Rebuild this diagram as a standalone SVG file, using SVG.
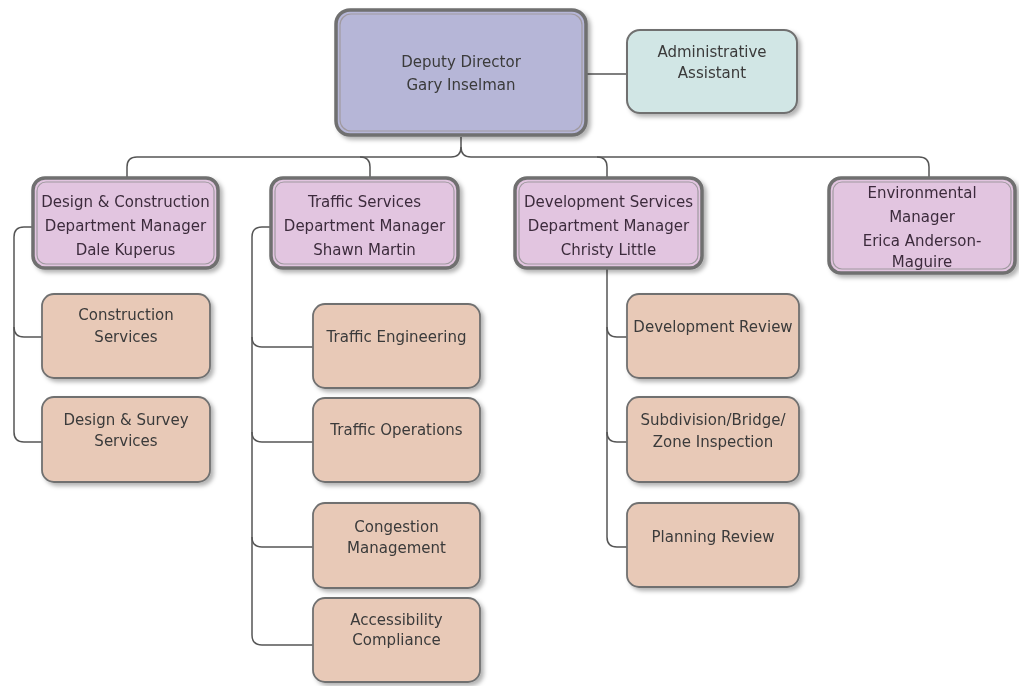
<svg xmlns="http://www.w3.org/2000/svg" width="1019" height="686" viewBox="0 0 1019 686">
<defs>
<filter id="sh" x="-10%" y="-10%" width="125%" height="130%">
<feDropShadow dx="3" dy="3" stdDeviation="2" flood-color="#000" flood-opacity="0.3"/>
</filter>
</defs>
<style>
text{font-family:"DejaVu Sans","Open Sans",sans-serif;font-size:15px;text-anchor:middle;fill:#3a3a3a}
.outer{stroke:#6f6f6f;stroke-width:3.5}
.inner{fill:none;stroke:#a09aa0;stroke-width:1.2}
.dir{fill:#b6b6d7}
.adm{fill:#d1e6e5;stroke:#707070;stroke-width:2}
.mgr{fill:#e2c5e0}
.mgr-t{fill:#3c2c3c}
.unit{fill:#e8c9b7;stroke:#707070;stroke-width:1.8}
.con{fill:none;stroke:#555;stroke-width:1.5}
</style>
<rect width="1019" height="686" fill="#fff"/>
<g id="connectors">
<path class="con" d="M587,74 H627"/>
<path class="con" d="M461,137 V147 Q461,157 451,157 H137 Q127,157 127,167 V177"/>
<path class="con" d="M461,147 Q461,157 471,157 H919 Q929,157 929,167 V178"/>
<path class="con" d="M360,157 Q370,157 370,167 V177"/>
<path class="con" d="M597,157 Q607,157 607,167 V177"/>
<path class="con" d="M33,227 H24 Q14,227 14,237 V432 Q14,442 24,442 H42"/>
<path class="con" d="M14,327 Q14,337 24,337 H42"/>
<path class="con" d="M270,227 H262 Q252,227 252,237 V635 Q252,645 262,645 H313"/>
<path class="con" d="M252,337 Q252,347 262,347 H313"/>
<path class="con" d="M252,432 Q252,442 262,442 H313"/>
<path class="con" d="M252,537 Q252,547 262,547 H313"/>
<path class="con" d="M607,268 V537 Q607,547 617,547 H627"/>
<path class="con" d="M607,327 Q607,337 617,337 H627"/>
<path class="con" d="M607,432 Q607,442 617,442 H627"/>
</g>
<g id="deputy-director" filter="url(#sh)">
<rect class="dir outer" x="336" y="10" width="250" height="125" rx="14"/>
<rect class="inner" x="340" y="14" width="242" height="117" rx="11"/>
<text x="461" y="67">Deputy Director</text>
<text x="461" y="90">Gary Inselman</text>
</g>
<g id="admin-assistant" filter="url(#sh)">
<rect class="adm" x="627" y="30" width="170" height="83" rx="13"/>
<text x="712" y="57">Administrative</text>
<text x="712" y="78">Assistant</text>
</g>
<g id="design-construction" filter="url(#sh)">
<rect class="mgr outer" x="33" y="178" width="185" height="90" rx="12"/>
<rect class="inner" x="37" y="182" width="177" height="82" rx="9"/>
<text class="mgr-t" x="125.5" y="207">Design &amp; Construction</text>
<text class="mgr-t" x="125.5" y="231">Department Manager</text>
<text class="mgr-t" x="125.5" y="255">Dale Kuperus</text>
</g>
<g id="traffic-services" filter="url(#sh)">
<rect class="mgr outer" x="271" y="178" width="187" height="90" rx="12"/>
<rect class="inner" x="275" y="182" width="179" height="82" rx="9"/>
<text class="mgr-t" x="364.5" y="207">Traffic Services</text>
<text class="mgr-t" x="364.5" y="231">Department Manager</text>
<text class="mgr-t" x="364.5" y="255">Shawn Martin</text>
</g>
<g id="development-services" filter="url(#sh)">
<rect class="mgr outer" x="515" y="178" width="187" height="90" rx="12"/>
<rect class="inner" x="519" y="182" width="179" height="82" rx="9"/>
<text class="mgr-t" x="608.5" y="207">Development Services</text>
<text class="mgr-t" x="608.5" y="231">Department Manager</text>
<text class="mgr-t" x="608.5" y="255">Christy Little</text>
</g>
<g id="environmental" filter="url(#sh)">
<rect class="mgr outer" x="829" y="178" width="186" height="95" rx="12"/>
<rect class="inner" x="833" y="182" width="178" height="87" rx="9"/>
<text class="mgr-t" x="922" y="198">Environmental</text>
<text class="mgr-t" x="922" y="222">Manager</text>
<text class="mgr-t" x="922" y="246">Erica Anderson-</text>
<text class="mgr-t" x="922" y="267">Maguire</text>
</g>
<g id="construction-services" filter="url(#sh)">
<rect class="unit" x="42" y="294" width="168" height="84" rx="12"/>
<text x="126" y="320">Construction</text>
<text x="126" y="342">Services</text>
</g>
<g id="design-survey" filter="url(#sh)">
<rect class="unit" x="42" y="397" width="168" height="85" rx="12"/>
<text x="126" y="425">Design &amp; Survey</text>
<text x="126" y="446">Services</text>
</g>
<g id="traffic-engineering" filter="url(#sh)">
<rect class="unit" x="313" y="304" width="167" height="84" rx="12"/>
<text x="396.5" y="342">Traffic Engineering</text>
</g>
<g id="traffic-operations" filter="url(#sh)">
<rect class="unit" x="313" y="398" width="167" height="84" rx="12"/>
<text x="396.5" y="435">Traffic Operations</text>
</g>
<g id="congestion-management" filter="url(#sh)">
<rect class="unit" x="313" y="503" width="167" height="85" rx="12"/>
<text x="396.5" y="532">Congestion</text>
<text x="396.5" y="553">Management</text>
</g>
<g id="accessibility-compliance" filter="url(#sh)">
<rect class="unit" x="313" y="598" width="167" height="84" rx="12"/>
<text x="396.5" y="625">Accessibility</text>
<text x="396.5" y="645">Compliance</text>
</g>
<g id="development-review" filter="url(#sh)">
<rect class="unit" x="627" y="294" width="172" height="84" rx="12"/>
<text x="713" y="332">Development Review</text>
</g>
<g id="subdivision-inspection" filter="url(#sh)">
<rect class="unit" x="627" y="397" width="172" height="85" rx="12"/>
<text x="713" y="425">Subdivision/Bridge/</text>
<text x="713" y="447">Zone Inspection</text>
</g>
<g id="planning-review" filter="url(#sh)">
<rect class="unit" x="627" y="503" width="172" height="84" rx="12"/>
<text x="713" y="542">Planning Review</text>
</g>
</svg>
